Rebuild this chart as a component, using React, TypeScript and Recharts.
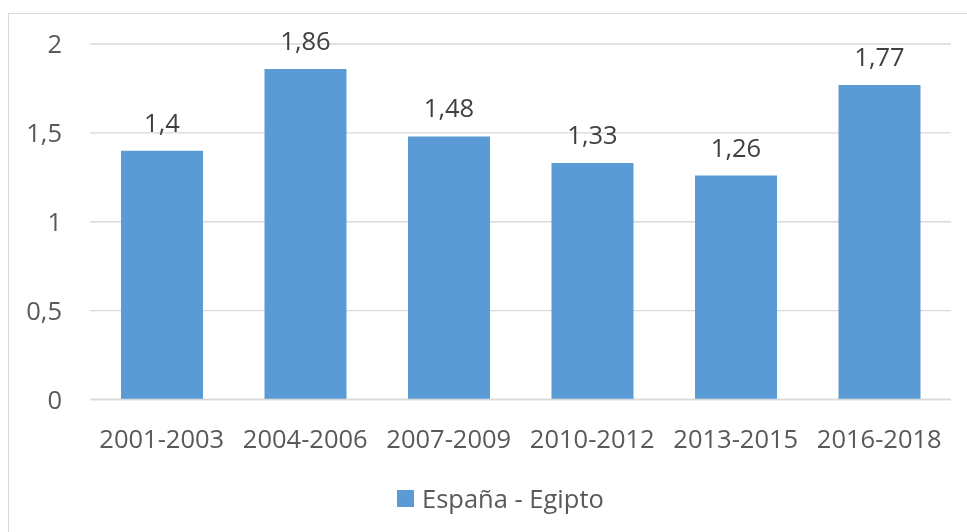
import React from 'react';
import { BarChart, Bar, XAxis, YAxis, CartesianGrid, LabelList } from 'recharts';

const periods = ['2001-2003', '2004-2006', '2007-2009', '2010-2012', '2013-2015', '2016-2018'];
const espanaEgipto = [1.4, 1.86, 1.48, 1.33, 1.26, 1.77];
const yTicks = [0, 0.5, 1, 1.5, 2];
const seriesName = 'España - Egipto';

const data = periods.map((p, i) => ({ period: p, value: espanaEgipto[i] }));

const fmt = (v: number) => String(v).replace('.', ',');

const FONT = '"Open Sans", sans-serif';
const FS = 25.5;

const App = () => {
  return (
    <div>
      <div style={{ position: 'fixed', left: 8, top: 13, width: 980, height: 540, border: '1px solid #d9d9d9', boxSizing: 'border-box' }} />
      <div style={{ position: 'fixed', left: 0, top: 0 }}>
        <BarChart width={967} height={532} data={data} margin={{ top: 44, right: 16, left: 0, bottom: 102.5 }} barSize={82}>
          <CartesianGrid vertical={false} stroke="#d9d9d9" strokeWidth={1.3} />
          <XAxis
            dataKey="period"
            axisLine={{ stroke: '#d9d9d9', strokeWidth: 1.3 }}
            tickLine={false}
            tickMargin={24}
            tick={{ fill: '#595959', fontSize: FS, fontFamily: FONT }}
            interval={0}
          />
          <YAxis
            width={90}
            domain={[0, 2]}
            ticks={yTicks}
            axisLine={false}
            tickLine={false}
            tickMargin={22}
            tickFormatter={fmt}
            tick={{ fill: '#595959', fontSize: FS, fontFamily: FONT }}
          />
          <Bar dataKey="value" name={seriesName} fill="#5B9BD5" isAnimationActive={false}>
            <LabelList
              dataKey="value"
              position="top"
              offset={19}
              formatter={(v: any) => fmt(v)}
              style={{ fill: '#404040', fontSize: FS, fontFamily: FONT }}
            />
          </Bar>
        </BarChart>
      </div>
      <div style={{ position: 'fixed', left: 397, top: 480, display: 'flex', alignItems: 'center', fontFamily: FONT, fontSize: FS, color: '#595959', lineHeight: '36px' }}>
        <span style={{ width: 17, height: 17, background: '#5B9BD5', display: 'inline-block', marginRight: 8 }} />
        <span>{seriesName}</span>
      </div>
    </div>
  );
};

export default App;
